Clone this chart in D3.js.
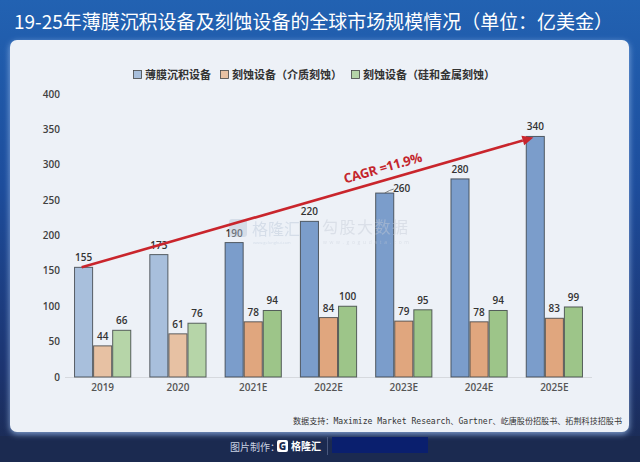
<!DOCTYPE html>
<html><head><meta charset="utf-8">
<script src="https://cdn.jsdelivr.net/npm/d3@7/dist/d3.min.js"></script>
<style>html,body{margin:0;padding:0;background:#1b2a52;}svg{display:block;}</style>
</head><body>
<svg id="c" width="640" height="462"></svg>
<script>
const title = "19-25年薄膜沉积设备及刻蚀设备的全球市场规模情况（单位：亿美金）";
const categories = ["2019","2020","2021E","2022E","2023E","2024E","2025E"];
const seriesNames = ["薄膜沉积设备","刻蚀设备（介质刻蚀）","刻蚀设备（硅和金属刻蚀）"];
const thinFilm = [155,173,190,220,260,280,340];
const etchDielectric = [44,61,78,84,79,78,83];
const etchSiMetal = [66,76,94,100,95,94,99];
const yTicks = [0,50,100,150,200,250,300,350,400];
const cagrText = "CAGR =11.9%";
const sourceText = "数据支持：Maximize Market Research、Gartner、屹唐股份招股书、拓荆科技招股书";

const series = [thinFilm, etchDielectric, etchSiMetal];
const darkColors = ["#7b9dcb","#e0a67e","#9dc589"];
const lightColors = ["#a8bfdc","#e7c1a3","#b6d5a8"];

const svg = d3.select("#c");
const defs = svg.append("defs");
const bg = defs.append("linearGradient").attr("id","bg").attr("x1",0).attr("y1",0).attr("x2",0).attr("y2",1);
bg.append("stop").attr("offset","0%").attr("stop-color","#2262b2");
bg.append("stop").attr("offset","40%").attr("stop-color","#1d4d9c");
bg.append("stop").attr("offset","80%").attr("stop-color","#1c3470");
bg.append("stop").attr("offset","100%").attr("stop-color","#1b2a50");
const glow = defs.append("filter").attr("id","glow").attr("x","-5%").attr("y","-5%").attr("width","110%").attr("height","115%");
glow.append("feGaussianBlur").attr("stdDeviation",3);

svg.append("rect").attr("width",640).attr("height",462).attr("fill","url(#bg)");
svg.append("rect").attr("x",0).attr("y",436).attr("width",640).attr("height",26).attr("fill","#1b2a50");

// title
svg.append("text").attr("x",14).attr("y",29).attr("fill","#ffffff")
  .style("font-family","'Noto Sans CJK SC','Noto Sans',sans-serif").style("font-size","19px")
  .attr("textLength",599).attr("lengthAdjust","spacingAndGlyphs").text(title);

// panel
svg.append("rect").attr("x",10).attr("y",42).attr("width",619).attr("height",392).attr("rx",7)
  .attr("fill","#9fc0ee").attr("filter","url(#glow)").attr("opacity",0.8);
svg.append("rect").attr("x",10).attr("y",40).attr("width",619).attr("height",392).attr("rx",7)
  .attr("fill","#edf1f7");

const numFont = "'Open Sans','Noto Sans',sans-serif";
const cjkFont = "'Noto Sans CJK SC','Noto Sans',sans-serif";

const x0 = d3.scaleBand().domain(categories).range([65,592]).paddingInner(0.24).paddingOuter(0.12);
const x1 = d3.scaleBand().domain(d3.range(3)).range([0,x0.bandwidth()]);
const y = d3.scaleLinear().domain([0,400]).range([377,94]);

// axis baseline
svg.append("line").attr("x1",65).attr("x2",592).attr("y1",y(0)+0.5).attr("y2",y(0)+0.5).attr("stroke","#d6d9de").attr("stroke-width",1);

// y tick labels
svg.append("g").selectAll("text").data(yTicks).join("text")
  .attr("x",60).attr("y",d=>y(d)+3.5).attr("text-anchor","end")
  .attr("fill","#404040").style("font-family",numFont).style("font-size","10px").style("font-weight",600)
  .text(d=>d);

// x labels
svg.append("g").selectAll("text").data(categories).join("text")
  .attr("x",d=>x0(d)+x0.bandwidth()/2).attr("y",391).attr("text-anchor","middle")
  .attr("fill","#555").style("font-family",numFont).style("font-size","10px").style("font-weight",600)
  .text(d=>d);

// bars
const isEst = c => /E$/.test(c);
const groups = svg.append("g").selectAll("g").data(categories).join("g")
  .attr("transform",d=>`translate(${x0(d)},0)`);
groups.selectAll("rect").data((c,i)=>series.map((s,k)=>({c,k,v:s[i]}))).join("rect")
  .attr("x",d=>x1(d.k)+0.5).attr("width",x1.bandwidth()-1)
  .attr("y",d=>y(d.v)).attr("height",d=>y(0)-y(d.v))
  .attr("fill",d=>isEst(d.c)?darkColors[d.k]:lightColors[d.k])
  .attr("stroke","#2f3438").attr("stroke-opacity",0.75).attr("stroke-width",1);

// watermarks (on top, faint)
const wm = svg.append("g").attr("opacity",0.45);
wm.append("rect").attr("x",229).attr("y",219).attr("width",18).attr("height",18).attr("rx",3).attr("fill","#b9c6d8");
wm.append("text").attr("x",252).attr("y",235).attr("fill","#b9c6d8").style("font-family",cjkFont).style("font-size","16px").text("格隆汇");
wm.append("text").attr("x",253).attr("y",244).attr("fill","#b9c6d8").style("font-family",numFont).style("font-size","4px").text("www.gelonghui.com");
wm.append("text").attr("x",322).attr("y",233).attr("fill","#c4cbd6").style("font-family",cjkFont).style("font-size","16px").attr("textLength",86).text("勾股大数据");
wm.append("text").attr("x",323).attr("y",244).attr("fill","#c4cbd6").style("font-family",numFont).style("font-size","5px").attr("textLength",86).text("www.gogudata.com");

// value labels
groups.selectAll("text").data((c,i)=>series.map((s,k)=>({c,k,v:s[i]}))).join("text")
  .attr("x",d=>x1(d.k)+x1.bandwidth()/2 + (d.c==="2023E"&&d.k===0?17:0))
  .attr("y",d=>y(d.v)-6 + (d.c==="2023E"&&d.k===0?5:0))
  .attr("text-anchor","middle").attr("fill","#333")
  .style("font-family",numFont).style("font-size","10px").style("font-weight",600)
  .text(d=>d.v);
// leader line for 2023E
{
  const c="2023E", i=categories.indexOf(c);
  const bx = x0(c)+x1(0)+x1.bandwidth()/2;
  svg.append("path").attr("d",`M${bx},${y(thinFilm[i])} Q${bx+5},${y(thinFilm[i])-3} ${bx+9},${y(thinFilm[i])-4}`)
    .attr("fill","none").attr("stroke","#666").attr("stroke-width",0.8);
}

// CAGR arrow
{
  const first=categories[0], last=categories[categories.length-1];
  const xa = x0(first)+x1(0)+x1.bandwidth()*0.4, ya = y(thinFilm[0]);
  const xb = x0(last)+x1(0)+x1.bandwidth()*0.4, yb = y(thinFilm[thinFilm.length-1])+1;
  const ang = Math.atan2(yb-ya, xb-xa);
  const hl=11, hw=5;
  const ex = xb - hl*Math.cos(ang), ey = yb - hl*Math.sin(ang);
  svg.append("line").attr("x1",xa).attr("y1",ya).attr("x2",ex).attr("y2",ey)
    .attr("stroke","#c9252c").attr("stroke-width",2.6);
  const px = -Math.sin(ang), py = Math.cos(ang);
  svg.append("path").attr("d",`M${xb},${yb} L${ex+px*hw},${ey+py*hw} L${ex-px*hw},${ey-py*hw} Z`).attr("fill","#c9252c");
  const tx = 384, ty = ya + (tx-xa)*Math.tan(ang) - 8;
  svg.append("text").attr("transform",`translate(${tx},${ty}) rotate(${ang*180/Math.PI})`)
    .attr("text-anchor","middle").attr("fill","#c4262d")
    .style("font-family",numFont).style("font-size","13px").style("font-weight",700).style("letter-spacing","-0.3px")
    .text(cagrText);
}

// legend
{
  const lg = svg.append("g");
  let lx = 133;
  seriesNames.forEach((n,k)=>{
    lg.append("rect").attr("x",lx+0.5).attr("y",70.5).attr("width",8).attr("height",8)
      .attr("fill",lightColors[k]).attr("stroke","#444").attr("stroke-width",0.8);
    const t = lg.append("text").attr("x",lx+12).attr("y",79).attr("fill","#333")
      .style("font-family",cjkFont).style("font-size","11px").style("font-weight",700).text(n);
    lx += 12 + t.node().getComputedTextLength() + 9;
  });
}

// source
svg.append("text").attr("x",293).attr("y",424).attr("fill","#333")
  .style("font-family","'DejaVu Sans Mono','Noto Sans CJK SC',monospace").style("font-size","8.5px")
  .attr("textLength",329).attr("lengthAdjust","spacingAndGlyphs").text(sourceText);

// footer
svg.append("text").attr("x",230).attr("y",451).attr("fill","#c9d1e2").style("font-family",cjkFont).style("font-size","10px").text("图片制作：");
svg.append("rect").attr("x",277).attr("y",440).attr("width",11).attr("height",12).attr("rx",2).attr("fill","#fff");
svg.append("text").attr("x",282.5).attr("y",450).attr("text-anchor","middle").attr("fill","#1b2a50").style("font-family",numFont).style("font-size","10px").style("font-weight",800).text("G");
svg.append("text").attr("x",291).attr("y",450).attr("fill","#fff").style("font-family",cjkFont).style("font-size","10px").style("font-weight",700).text("格隆汇");
svg.append("line").attr("x1",327.5).attr("x2",327.5).attr("y1",437).attr("y2",455).attr("stroke","#56658a").attr("stroke-width",0.8);
svg.append("rect").attr("x",332).attr("y",437).attr("width",96).attr("height",16).attr("fill","#0a1f6e");
</script>
</body></html>
